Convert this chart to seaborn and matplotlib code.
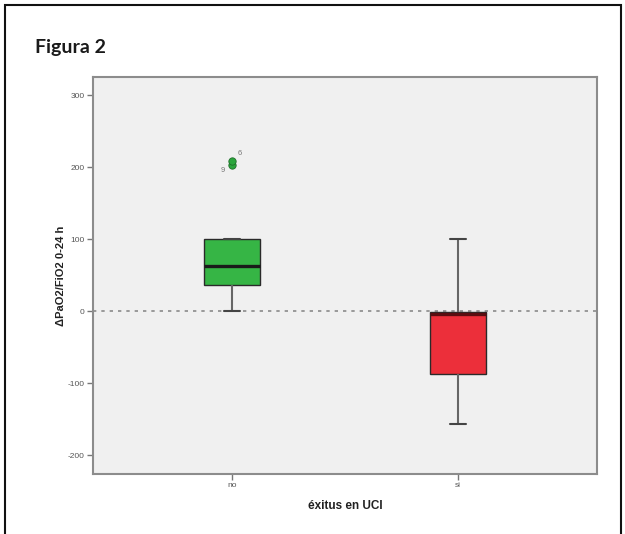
import numpy as np
import pandas as pd
import matplotlib
matplotlib.use("Agg")
import matplotlib.pyplot as plt
import seaborn as sns

# grupos y resumen de cinco números
groups = ["no", "si"]
whisker_low = [0, -157]
q1 = [36, -87]
median = [62, -4]
q3 = [100, -1]
whisker_high = [100, 100]
box_colors = ["#36b545", "#ec2f3a"]
median_colors = ["#1a1a1a", "#5a0d10"]

# valores atípicos del grupo "no" con su número de caso
outlier_values = [203, 209]
outlier_labels = ["9", "6"]

yticks = [-200, -100, 0, 100, 200, 300]

# datos mínimos que reproducen los cuartiles leídos
rows = []
for g, lo, a, m, b, hi in zip(groups, whisker_low, q1, median, q3, whisker_high):
    for v in [lo, a, a, m, b, b, hi]:
        rows.append({"grupo": g, "valor": v})
df = pd.DataFrame(rows)

sns.set_style("white")
plt.rcParams["font.family"] = ["Liberation Sans", "DejaVu Sans"]

fig = plt.figure(figsize=(6.25, 5.34), dpi=100)
ax = fig.add_axes([0.1488, 0.1124, 0.8064, 0.7434])
ax.set_facecolor("#f0f0f0")

ax.axhline(0, color="#8a8a8a", lw=1.2, ls=(0, (2, 3)), zorder=1)

sns.boxplot(data=df, x="grupo", y="valor", order=groups, hue="grupo",
            palette=box_colors, saturation=1, legend=False, width=0.25, ax=ax,
            showfliers=False, whis=1.5, linewidth=1.0, linecolor="#333333",
            whiskerprops=dict(color="#666666", lw=1.5),
            capprops=dict(color="#444444", lw=1.5),
            boxprops=dict(edgecolor="#2a2a2a", lw=1.0),
            medianprops=dict(lw=2.4), capwidths=0.07, zorder=2)

# colores de mediana
for i, m in enumerate(median):
    for l in ax.lines:
        xd, yd = np.asarray(l.get_xdata(), float), np.asarray(l.get_ydata(), float)
        if len(xd) == 2 and np.allclose(yd, m) and abs(xd[1] - xd[0] - 0.25) < 0.01:
            l.set_color(median_colors[i])

ax.scatter([0] * len(outlier_values), outlier_values, s=28, color="#2aa63c",
           edgecolor="#1f6e2a", lw=0.6, zorder=4)
ax.annotate(outlier_labels[0], (0, outlier_values[0]), xytext=(-8, -4),
            textcoords="offset points", fontsize=5.5, color="#777777", va="center")
ax.annotate(outlier_labels[1], (0, outlier_values[1]), xytext=(4, 5),
            textcoords="offset points", fontsize=5.5, color="#777777", va="center")

ax.set_xlim(-0.615, 1.615)
ax.set_ylim(-226, 325)
ax.set_yticks(yticks)
ax.set_yticklabels([str(t) for t in yticks])
ax.tick_params(axis="both", labelsize=6, labelcolor="#555555", length=4,
               width=1, color="#777777", direction="out", left=True, bottom=True, pad=2)

for s in ax.spines.values():
    s.set_color("#8c8c8c")
    s.set_linewidth(1.5)

ax.set_xlabel("éxitus en UCI", fontsize=8.5, fontweight="bold", color="#222222", labelpad=8)
ax.set_ylabel("ΔPaO2/FiO2 0-24 h", fontsize=8, fontweight="bold", color="#222222", labelpad=1)

fig.text(35 / 625, 1 - 47 / 534, "Figura 2", fontsize=14, fontweight="bold",
         family=["Lato", "DejaVu Sans"], color="#1a1a1a", va="center")

# marco exterior
frame = plt.Rectangle((5 / 625, -0.02), 616 / 625, 1 - 5 / 534 + 0.02, transform=fig.transFigure,
                      fill=False, lw=1.5, edgecolor="#111111")
fig.patches.append(frame)

fig.savefig("out.png", dpi=100)
